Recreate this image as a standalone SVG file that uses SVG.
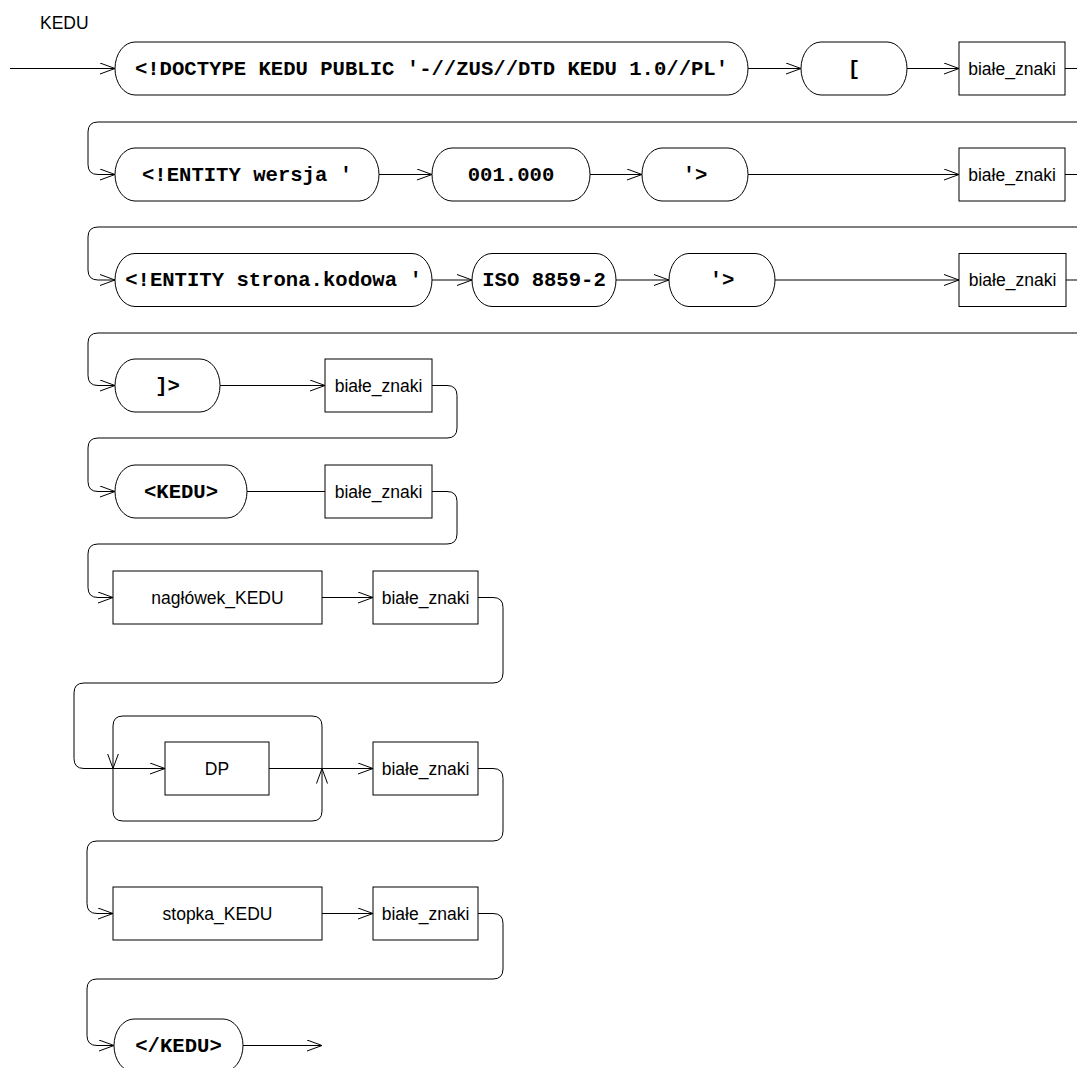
<svg xmlns="http://www.w3.org/2000/svg" width="1077" height="1068" viewBox="0 0 1077 1068">
<defs>
<marker id="arr" markerUnits="userSpaceOnUse" viewBox="0 0 16 12" markerWidth="16" markerHeight="12" refX="15" refY="6" orient="auto">
<path d="M0,0.5 L15,6 L0,11.5" fill="none" stroke="#000" stroke-width="1"/>
</marker>
<style>
.t rect{fill:#fff;stroke:#000;stroke-width:1}
.n rect{fill:#fff;stroke:#000;stroke-width:1}
.t text{font-family:"Liberation Mono","Courier New",monospace;font-weight:bold;font-size:20.6px;text-anchor:middle;fill:#000}
.n text{font-family:"Liberation Sans",Arial,sans-serif;font-size:17.5px;text-anchor:middle;fill:#000}
#conn path{fill:none;stroke:#000;stroke-width:1}
#conn path.a{marker-end:url(#arr)}
.title{font-family:"Liberation Sans",Arial,sans-serif;font-size:17.5px;fill:#000}
</style>
</defs>
<rect width="1077" height="1068" fill="#fff"/>
<text class="title" x="40" y="29">KEDU</text>

<g id="conn">
<path class="a" d="M10,68.5 H115"/>
<path class="a" d="M748,68.5 H801"/>
<path class="a" d="M907,68.5 H959"/>
<path class="a" d="M1065,68.5 H1080 Q1090,68.5 1090,78.5 V112 Q1090,122 1080,122 H98 Q88,122 88,132 V164.5 Q88,174.5 98,174.5 H115"/>
<path class="a" d="M379,174.5 H432"/>
<path class="a" d="M590,174.5 H642"/>
<path class="a" d="M748,174.5 H959"/>
<path class="a" d="M1065,174.5 H1080 Q1090,174.5 1090,184.5 V217 Q1090,227 1080,227 H98 Q88,227 88,237 V270 Q88,280 98,280 H115"/>
<path class="a" d="M432,280 H472"/>
<path class="a" d="M616,280 H669"/>
<path class="a" d="M775,280 H959"/>
<path class="a" d="M1066,280 H1080 Q1090,280 1090,290 V323 Q1090,333 1080,333 H98 Q88,333 88,343 V375.5 Q88,385.5 98,385.5 H115"/>
<path class="a" d="M220,385.5 H325"/>
<path class="a" d="M432,385.5 H447 Q457,385.5 457,395.5 V428 Q457,438 447,438 H98 Q88,438 88,448 V481.5 Q88,491.5 98,491.5 H115"/>
<path d="M247,491.5 H325"/>
<path class="a" d="M432,491.5 H447 Q457,491.5 457,501.5 V534 Q457,544 447,544 H98 Q88,544 88,554 V587.5 Q88,597.5 98,597.5 H113"/>
<path class="a" d="M322,597.5 H373"/>
<path class="a" d="M478,597.5 H493 Q503,597.5 503,607.5 V673 Q503,683 493,683 H84 Q74,683 74,693 V758.5 Q74,768.5 84,768.5 H165"/>
<path class="a" d="M322,768.5 V726 Q322,716 312,716 H123 Q113,716 113,726 V768.5"/>
<path class="a" d="M113,768.5 V811 Q113,821 123,821 H312 Q322,821 322,811 V768.5"/>
<path class="a" d="M269,768.5 H373"/>
<path class="a" d="M478,768.5 H493 Q503,768.5 503,778.5 V831 Q503,841 493,841 H97 Q87,841 87,851 V903.5 Q87,913.5 97,913.5 H113"/>
<path class="a" d="M322,913.5 H373"/>
<path class="a" d="M478,913.5 H493 Q503,913.5 503,923.5 V969 Q503,979 493,979 H97 Q87,979 87,989 V1035.5 Q87,1045.5 97,1045.5 H114"/>
<path class="a" d="M243,1045.5 H322"/>
</g>

<g id="n-doctype" class="t"><rect x="115" y="42" width="633" height="53" rx="20" ry="26.5"/><text x="431.5" y="74.5">&lt;!DOCTYPE KEDU PUBLIC '-//ZUS//DTD KEDU 1.0//PL'</text></g>
<g id="n-lbracket" class="t"><rect x="801" y="42" width="106" height="53" rx="20" ry="26.5"/><text x="854" y="74.5">[</text></g>
<g id="n-bz1" class="n"><rect x="959" y="42" width="106" height="53"/><text x="1012" y="74.5">białe_znaki</text></g>

<g id="n-wersja" class="t"><rect x="115" y="148" width="264" height="53" rx="20" ry="26.5"/><text x="247" y="180.5">&lt;!ENTITY wersja '</text></g>
<g id="n-001" class="t"><rect x="432" y="148" width="158" height="53" rx="20" ry="26.5"/><text x="511" y="180.5">001.000</text></g>
<g id="n-close1" class="t"><rect x="642" y="148" width="106" height="53" rx="20" ry="26.5"/><text x="695" y="180.5">'&gt;</text></g>
<g id="n-bz2" class="n"><rect x="959" y="148" width="106" height="53"/><text x="1012" y="180.5">białe_znaki</text></g>

<g id="n-strona" class="t"><rect x="115" y="253.5" width="317" height="53" rx="20" ry="26.5"/><text x="273.5" y="286">&lt;!ENTITY strona.kodowa '</text></g>
<g id="n-iso" class="t"><rect x="472" y="253.5" width="144" height="53" rx="20" ry="26.5"/><text x="544" y="286">ISO 8859-2</text></g>
<g id="n-close2" class="t"><rect x="669" y="253.5" width="106" height="53" rx="20" ry="26.5"/><text x="722" y="286">'&gt;</text></g>
<g id="n-bz3" class="n"><rect x="959" y="253.5" width="107" height="53"/><text x="1012.5" y="286">białe_znaki</text></g>

<g id="n-rbracket" class="t"><rect x="115" y="359" width="105" height="53" rx="20" ry="26.5"/><text x="167.5" y="391.5">]&gt;</text></g>
<g id="n-bz4" class="n"><rect x="325" y="359" width="107" height="53"/><text x="378.5" y="391.5">białe_znaki</text></g>

<g id="n-kedu" class="t"><rect x="115" y="465" width="132" height="53" rx="20" ry="26.5"/><text x="181" y="497.5">&lt;KEDU&gt;</text></g>
<g id="n-bz5" class="n"><rect x="325" y="465" width="107" height="53"/><text x="378.5" y="497.5">białe_znaki</text></g>

<g id="n-naglowek" class="n"><rect x="113" y="571" width="209" height="53"/><text x="217.5" y="603.5">nagłówek_KEDU</text></g>
<g id="n-bz6" class="n"><rect x="373" y="571" width="105" height="53"/><text x="425.5" y="603.5">białe_znaki</text></g>

<g id="n-dp" class="n"><rect x="165" y="742" width="104" height="53"/><text x="217" y="774.5">DP</text></g>
<g id="n-bz7" class="n"><rect x="373" y="742" width="105" height="53"/><text x="425.5" y="774.5">białe_znaki</text></g>

<g id="n-stopka" class="n"><rect x="113" y="887" width="209" height="53"/><text x="217.5" y="919.5">stopka_KEDU</text></g>
<g id="n-bz8" class="n"><rect x="373" y="887" width="105" height="53"/><text x="425.5" y="919.5">białe_znaki</text></g>

<g id="n-endkedu" class="t"><rect x="114" y="1019" width="129" height="53" rx="20" ry="26.5"/><text x="178.5" y="1051.5">&lt;/KEDU&gt;</text></g>
</svg>
